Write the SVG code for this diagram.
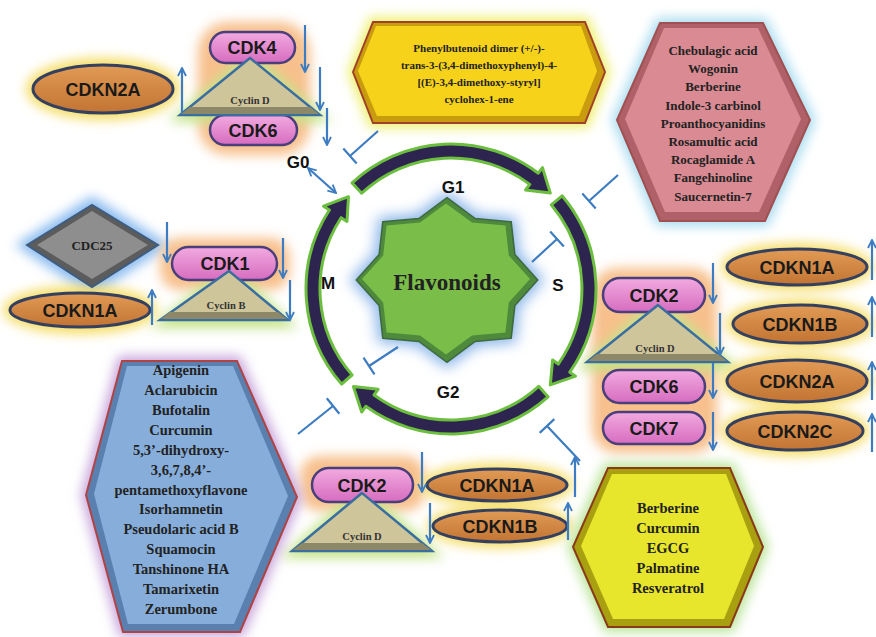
<svg xmlns="http://www.w3.org/2000/svg" width="876" height="637" viewBox="0 0 876 637">
<defs>
<filter id="bl" x="-40%" y="-40%" width="180%" height="180%"><feGaussianBlur stdDeviation="6"/></filter>
<linearGradient id="pk" x1="0" y1="0" x2="0" y2="1"><stop offset="0" stop-color="#f2aae0"/><stop offset="1" stop-color="#d66cbf"/></linearGradient>
<linearGradient id="or" x1="0" y1="0" x2="0" y2="1"><stop offset="0" stop-color="#e19b55"/><stop offset="1" stop-color="#c27433"/></linearGradient>
<marker id="ah" viewBox="0 0 10 10" refX="9" refY="5" markerWidth="10" markerHeight="10" markerUnits="userSpaceOnUse" orient="auto-start-reverse"><path d="M1,1 L9,5 L1,9" fill="none" stroke="#3d7cc0" stroke-width="1.8"/></marker>
</defs>
<style>
.pill{fill:url(#pk);stroke:#4a3f7a;stroke-width:2.5}
.ell{fill:url(#or);stroke:#34405e;stroke-width:3}
.tri{fill:#cfc59b;stroke:#3a6e9e;stroke-width:2.5}
.band{fill:#8d8868}
.lbl{font-family:"Liberation Sans",Arial,sans-serif;font-weight:bold;font-size:18px;fill:#1a1a1a;text-anchor:middle}
.cyc{font-family:"Liberation Serif","Times New Roman",serif;font-weight:bold;font-size:10.5px;fill:#333;text-anchor:middle}
.cmp{font-family:"Liberation Serif","Times New Roman",serif;font-weight:bold;fill:#222;text-anchor:middle}
.ph{font-family:"Liberation Sans",Arial,sans-serif;font-weight:bold;font-size:17px;fill:#111;text-anchor:middle}
.arr{stroke:#3d7cc0;stroke-width:2.2;fill:none;marker-end:url(#ah)}
.tee{stroke:#3d7cc0;stroke-width:2.2;fill:none}
.arc{fill:#2d2450;stroke:#6cbf3e;stroke-width:3;stroke-linejoin:round}
.og{fill:#f7c08c;filter:url(#bl)}
.gg{fill:#c4e48a;filter:url(#bl)}
.yg{fill:#f5dd66;filter:url(#bl)}
</style>
<rect width="876" height="637" fill="#ffffff"/>

<!-- glows -->
<g id="glows">
<rect class="og" x="198" y="22" width="112" height="133" rx="30"/>
<polygon class="gg" points="250,50 168,122 332,122"/>
<ellipse class="yg" cx="103" cy="89" rx="77" ry="31"/>
<polygon fill="#8cbcf0" filter="url(#bl)" points="15,245 92,196 170,245 92,296"/>
<rect class="og" x="160" y="238" width="130" height="52" rx="20"/>
<polygon class="gg" points="229,262 150,328 298,328"/>
<ellipse class="yg" cx="80" cy="310" rx="77" ry="24"/>
<rect class="og" x="592" y="268" width="125" height="185" rx="25"/>
<polygon class="gg" points="658,296 575,370 740,370"/>
<ellipse class="yg" cx="797" cy="267" rx="76" ry="24"/>
<ellipse class="yg" cx="800" cy="324" rx="74" ry="25"/>
<ellipse class="yg" cx="797" cy="381" rx="76" ry="27"/>
<ellipse class="yg" cx="795" cy="431" rx="74" ry="25"/>
<rect class="og" x="300" y="456" width="125" height="55" rx="20"/>
<polygon class="gg" points="362,484 280,558 444,558"/>
<ellipse class="yg" cx="497" cy="485" rx="76" ry="22"/>
<ellipse class="yg" cx="500" cy="526" rx="73" ry="22"/>
<polygon fill="#eef070" stroke="#eef070" stroke-width="10" filter="url(#bl)" points="353,72 373,22 585,22 605,72 585,123 373,123"/>
<polygon fill="#a8dcf0" stroke="#a8dcf0" stroke-width="10" filter="url(#bl)" points="617,120 660,23 763,23 810,120 765,221 660,221"/>
<polygon fill="#c8a6dc" stroke="#c8a6dc" stroke-width="10" filter="url(#bl)" points="86,495 122,361 237,361 297,497 240,632 123,632"/>
<polygon fill="#b8e496" stroke="#b8e496" stroke-width="10" filter="url(#bl)" points="573,547 608,468 730,468 763,547 730,627 608,627"/>
<polygon fill="#8fb8ea" filter="url(#bl)" transform="translate(447,280) scale(1.16,1.06)" points="0,-84 26,-62.8 59.4,-59.4 62.8,-26 84,0 62.8,26 59.4,59.4 26,62.8 0,84 -26,62.8 -59.4,59.4 -62.8,26 -84,0 -62.8,-26 -59.4,-59.4 -26,-62.8"/>
</g>

<!-- cell cycle -->
<g id="cycle">
<path class="arc" d="M352.1,182.9 A145,145 0 0 1 538.3,173.2 L542.5,167.6 L550.3,193.1 L525.6,190.0 L529.8,184.4 A131,131 0 0 0 361.7,193.2 Z"/>
<path class="arc" d="M562.1,195.8 A145,145 0 0 1 569.8,372.2 L575.5,376.2 L550.3,384.9 L552.6,360.1 L558.3,364.1 A131,131 0 0 0 551.3,204.8 Z"/>
<path class="arc" d="M548.0,396.8 A145,145 0 0 1 365.8,406.3 L361.7,412.0 L353.4,386.6 L378.1,389.3 L374.0,395.0 A131,131 0 0 0 538.7,386.3 Z"/>
<path class="arc" d="M341.6,384.1 A145,145 0 0 1 329.4,210.0 L323.5,206.2 L348.5,196.7 L347.0,221.5 L341.1,217.7 A131,131 0 0 0 352.1,375.0 Z"/>
<text class="ph" x="453" y="193">G1</text>
<text class="ph" x="558" y="291">S</text>
<text class="ph" x="448" y="398">G2</text>
<text class="ph" x="328" y="289">M</text>
<text class="ph" x="298" y="168">G0</text>
</g>

<g id="flavonoids">
<polygon fill="#4f8a3c" stroke="#3e6a40" stroke-width="1.5" transform="translate(447,280) scale(1.08,0.98)" points="0,-84 26,-62.8 59.4,-59.4 62.8,-26 84,0 62.8,26 59.4,59.4 26,62.8 0,84 -26,62.8 -59.4,59.4 -62.8,26 -84,0 -62.8,-26 -59.4,-59.4 -26,-62.8"/>
<polygon fill="#7bbd49" transform="translate(446,279) scale(1.0,0.9)" points="0,-84 26,-62.8 59.4,-59.4 62.8,-26 84,0 62.8,26 59.4,59.4 26,62.8 0,84 -26,62.8 -59.4,59.4 -62.8,26 -84,0 -62.8,-26 -59.4,-59.4 -26,-62.8"/>
<text class="cmp" x="447" y="290" font-size="23">Flavonoids</text>
</g>

<!-- top-left G1 complex -->
<g id="cdkn2a_tl"><ellipse class="ell" cx="103" cy="89" rx="70" ry="24"/><text class="lbl" x="103" y="96">CDKN2A</text></g>
<g id="cdk4_tl"><rect class="pill" x="210" y="32" width="85" height="31" rx="15.5"/><text class="lbl" x="252" y="54">CDK4</text></g>
<g id="cdk6_tl"><rect class="pill" x="210" y="115" width="87" height="30" rx="15"/><text class="lbl" x="253" y="137">CDK6</text></g>
<g id="cyclinD_tl"><polygon class="tri" points="250,58 180,115 320,115"/><polygon class="band" points="181,114 319,114 310,107 190,107"/><text class="cyc" x="250" y="104">Cyclin D</text></g>

<!-- left G2/M complex -->
<g id="cdc25"><polygon fill="#5c5c5c" stroke="#3d5c80" stroke-width="2" points="27,245 92,205 158,245 92,287"/><polygon fill="#8e8e8e" points="37,245 92,211 148,245 92,279"/><text class="cmp" x="92" y="250" font-size="13">CDC25</text></g>
<g id="cdk1"><rect class="pill" x="172" y="247" width="105" height="33" rx="16.5"/><text class="lbl" x="225" y="270">CDK1</text></g>
<g id="cyclinB"><polygon class="tri" points="229,271 160,320 288,320"/><polygon class="band" points="161,319 287,319 278,312 170,312"/><text class="cyc" x="226" y="309">Cyclin B</text></g>
<g id="cdkn1a_l"><ellipse class="ell" cx="80" cy="310" rx="70" ry="17"/><text class="lbl" x="80" y="317">CDKN1A</text></g>

<!-- right G1/S complex -->
<g id="cdk2_r"><rect class="pill" x="603" y="278" width="102" height="34" rx="17"/><text class="lbl" x="654" y="302">CDK2</text></g>
<g id="cyclinD_r"><polygon class="tri" points="658,305 587,362 728,362"/><polygon class="band" points="588,361 727,361 718,354 597,354"/><text class="cyc" x="655" y="352">Cyclin D</text></g>
<g id="cdk6_r"><rect class="pill" x="603" y="370" width="102" height="33" rx="16.5"/><text class="lbl" x="654" y="393">CDK6</text></g>
<g id="cdk7_r"><rect class="pill" x="603" y="412" width="102" height="32" rx="16"/><text class="lbl" x="654" y="435">CDK7</text></g>
<g id="cdkn1a_r"><ellipse class="ell" cx="797" cy="267" rx="70" ry="18"/><text class="lbl" x="797" y="274">CDKN1A</text></g>
<g id="cdkn1b_r"><ellipse class="ell" cx="800" cy="324" rx="67" ry="19"/><text class="lbl" x="800" y="331">CDKN1B</text></g>
<g id="cdkn2a_r"><ellipse class="ell" cx="797" cy="381" rx="70" ry="21"/><text class="lbl" x="797" y="388">CDKN2A</text></g>
<g id="cdkn2c_r"><ellipse class="ell" cx="795" cy="431" rx="68" ry="19"/><text class="lbl" x="795" y="438">CDKN2C</text></g>

<!-- bottom S/G2 complex -->
<g id="cdk2_b"><rect class="pill" x="312" y="468" width="101" height="34" rx="17"/><text class="lbl" x="362" y="492">CDK2</text></g>
<g id="cyclinD_b"><polygon class="tri" points="362,493 292,551 432,551"/><polygon class="band" points="293,550 431,550 422,543 302,543"/><text class="cyc" x="362" y="540">Cyclin D</text></g>
<g id="cdkn1a_b"><ellipse class="ell" cx="497" cy="485" rx="70" ry="16"/><text class="lbl" x="497" y="492">CDKN1A</text></g>
<g id="cdkn1b_b"><ellipse class="ell" cx="500" cy="526" rx="67" ry="16"/><text class="lbl" x="500" y="533">CDKN1B</text></g>

<!-- compound boxes -->
<g id="hex_top">
<polygon fill="#c99c10" stroke="#a0402a" stroke-width="2" points="353,72 373,22 585,22 605,72 585,123 373,123"/>
<polygon fill="#f7d21a" points="358,71 376,26 581,26 597,71 579,116 377,116"/>
<text class="cmp" font-size="11"><tspan x="479" y="52">Phenylbutenoid dimer (+/-)-</tspan><tspan x="479" y="69">trans-3-(3,4-dimethoxyphenyl)-4-</tspan><tspan x="479" y="86">[(E)-3,4-dimethoxy-styryl]</tspan><tspan x="479" y="103">cyclohex-1-ene</tspan></text>
</g>
<g id="hex_pink">
<polygon fill="#b06068" stroke="#a05050" stroke-width="2" points="617,120 660,23 763,23 810,120 765,221 660,221"/>
<polygon fill="#d98a92" points="625,119 664,28 758,28 801,119 759,212 665,212"/>
<text class="cmp" font-size="13"><tspan x="713" y="55">Chebulagic acid</tspan><tspan x="713" y="73.2">Wogonin</tspan><tspan x="713" y="91.4">Berberine</tspan><tspan x="713" y="109.6">Indole-3 carbinol</tspan><tspan x="713" y="127.8">Proanthocyanidins</tspan><tspan x="713" y="146">Rosamultic acid</tspan><tspan x="713" y="164.2">Rocaglamide A</tspan><tspan x="713" y="182.4">Fangehinoline</tspan><tspan x="713" y="200.6">Saucernetin-7</tspan></text>
</g>
<g id="hex_blue">
<polygon fill="#5a80b0" stroke="#b04444" stroke-width="2" points="86,495 122,361 237,361 297,497 240,632 123,632"/>
<polygon fill="#87aedb" points="94,494 127,366 233,366 288,496 234,624 128,624"/>
<text class="cmp" font-size="14.5"><tspan x="181" y="375">Apigenin</tspan><tspan x="181" y="395">Aclarubicin</tspan><tspan x="181" y="415">Bufotalin</tspan><tspan x="181" y="435">Curcumin</tspan><tspan x="181" y="455">5,3’-dihydroxy-</tspan><tspan x="181" y="475">3,6,7,8,4’-</tspan><tspan x="181" y="495">pentamethoxyflavone</tspan><tspan x="181" y="514">Isorhamnetin</tspan><tspan x="181" y="534">Pseudolaric acid B</tspan><tspan x="181" y="554">Squamocin</tspan><tspan x="181" y="574">Tanshinone HA</tspan><tspan x="181" y="594">Tamarixetin</tspan><tspan x="181" y="614">Zerumbone</tspan></text>
</g>
<g id="hex_yellow">
<polygon fill="#a8a010" stroke="#8a3a1a" stroke-width="2" points="573,547 608,468 730,468 763,547 730,627 608,627"/>
<polygon fill="#e8e62c" points="581,546 612,474 726,474 754,546 724,619 613,619"/>
<text class="cmp" font-size="14.5"><tspan x="668" y="513">Berberine</tspan><tspan x="668" y="533">Curcumin</tspan><tspan x="668" y="553">EGCG</tspan><tspan x="668" y="573">Palmatine</tspan><tspan x="668" y="593">Resveratrol</tspan></text>
</g>

<!-- connectors -->
<g id="connectors">
<line class="arr" x1="182" y1="113" x2="182" y2="68"/>
<line class="arr" x1="305" y1="25" x2="305" y2="72"/>
<line class="arr" x1="320" y1="67" x2="320" y2="110"/>
<line class="arr" x1="327" y1="108" x2="327" y2="145"/>
<line class="arr" x1="308" y1="168" x2="336" y2="193" marker-start="url(#ah)"/>
<line class="arr" x1="167" y1="222" x2="167" y2="262"/>
<line class="arr" x1="283" y1="238" x2="283" y2="278"/>
<line class="arr" x1="290" y1="280" x2="290" y2="320"/>
<line class="arr" x1="152" y1="325" x2="152" y2="290"/>
<line class="arr" x1="713" y1="263" x2="713" y2="303"/>
<line class="arr" x1="720" y1="313" x2="720" y2="355"/>
<line class="arr" x1="713" y1="363" x2="713" y2="398"/>
<line class="arr" x1="713" y1="412" x2="713" y2="450"/>
<line class="arr" x1="872" y1="280" x2="872" y2="240"/>
<line class="arr" x1="872" y1="337" x2="872" y2="297"/>
<line class="arr" x1="872" y1="400" x2="872" y2="362"/>
<line class="arr" x1="872" y1="452" x2="872" y2="414"/>
<line class="arr" x1="422" y1="452" x2="422" y2="492"/>
<line class="arr" x1="430" y1="503" x2="430" y2="543"/>
<line class="arr" x1="575" y1="497" x2="575" y2="457"/>
<line class="arr" x1="568" y1="540" x2="568" y2="503"/>
<path class="tee" d="M378,131 L350,156 M343.3,148.5 L356.7,163.5"/>
<path class="tee" d="M618,175 L589,201 M582.3,193.6 L595.7,208.4"/>
<path class="tee" d="M532,262 L557,239 M550.2,231.6 L563.8,246.4"/>
<path class="tee" d="M398,347 L369,366 M363.5,357.6 L374.5,374.4"/>
<path class="tee" d="M298,434 L333,406 M326.8,398.2 L339.3,413.8"/>
<path class="tee" d="M580,461 L547,426 M539.7,432.9 L554.3,419.1"/>
</g>
</svg>
